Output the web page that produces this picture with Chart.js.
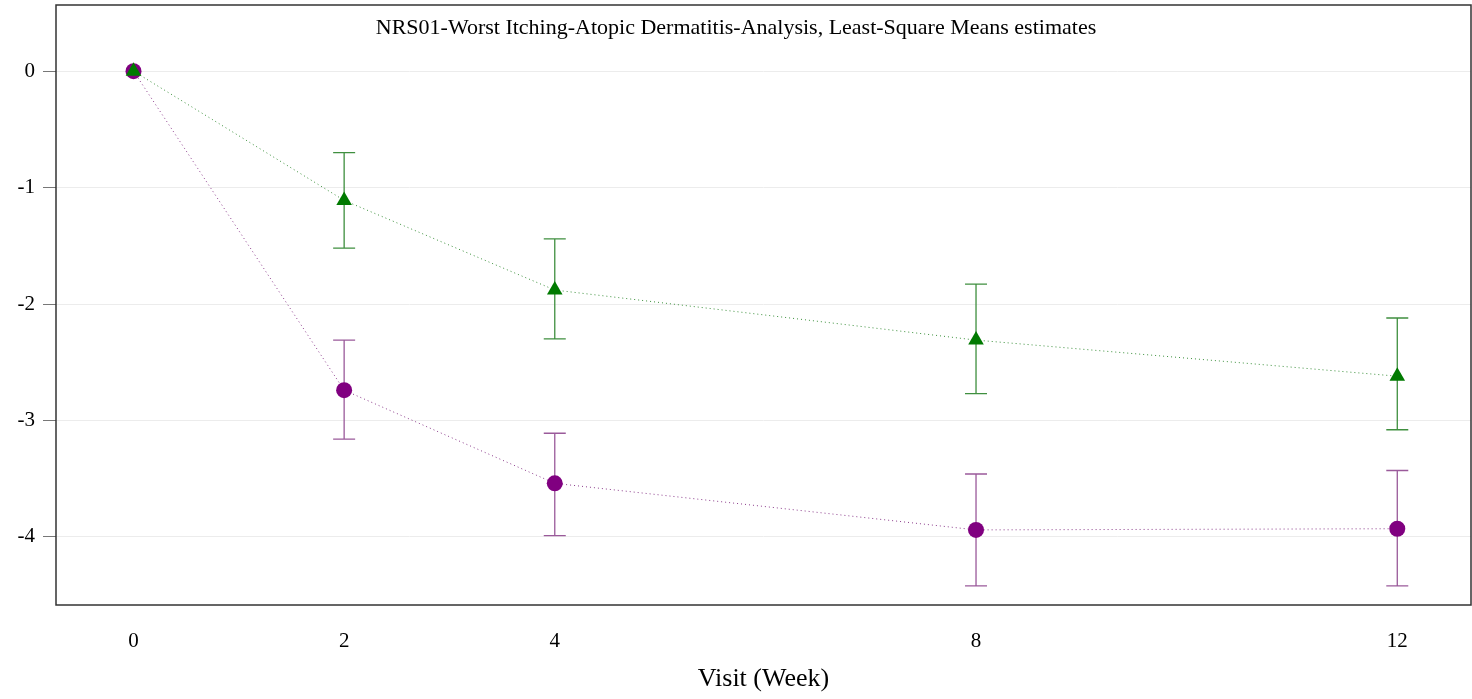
<!DOCTYPE html>
<html>
<head>
<meta charset="utf-8">
<title>NRS01 Worst Itching LS Means</title>
<script src="https://cdn.jsdelivr.net/npm/chart.js@4"></script>
<style>
  html, body { margin: 0; padding: 0; background: #fff; }
  #wrap { width: 1472px; height: 699px; }
</style>
</head>
<body>
<div id="wrap"><canvas id="chart"></canvas></div>
<script>
// data
const weeks = [0, 2, 4, 8, 12];
const xTicks = [0, 2, 4, 8, 12];
const yTicks = [0, -1, -2, -3, -4];

const greenMean  = [0, -1.11, -1.88, -2.31, -2.62];
const greenUpper = [null, -0.70, -1.44, -1.83, -2.12];
const greenLower = [null, -1.52, -2.30, -2.77, -3.08];

const purpleMean  = [0, -2.74, -3.54, -3.94, -3.93];
const purpleUpper = [null, -2.31, -3.11, -3.46, -3.43];
const purpleLower = [null, -3.16, -3.99, -4.42, -4.42];

const titleText = 'NRS01-Worst Itching-Atopic Dermatitis-Analysis, Least-Square Means estimates';
const serif = "'Liberation Serif', 'Times New Roman', serif";

function toPoints(ys) {
  return weeks.map((w, i) => ({ x: w, y: ys[i] }));
}

// error bars with caps, drawn under the markers
const errorBars = {
  id: 'errorBars',
  beforeDatasetsDraw(chart) {
    const ctx = chart.ctx;
    const xs = chart.scales.x, ys = chart.scales.y;
    const sets = [
      { up: greenUpper, lo: greenLower, color: '#3f8f3f' },
      { up: purpleUpper, lo: purpleLower, color: '#9a5a9a' }
    ];
    ctx.save();
    ctx.lineWidth = 1.3;
    sets.forEach(s => {
      ctx.strokeStyle = s.color;
      weeks.forEach((w, i) => {
        if (s.up[i] == null) return;
        const px = xs.getPixelForValue(w);
        const y1 = ys.getPixelForValue(s.up[i]);
        const y2 = ys.getPixelForValue(s.lo[i]);
        ctx.beginPath();
        ctx.moveTo(px, y1); ctx.lineTo(px, y2);
        ctx.moveTo(px - 11, y1); ctx.lineTo(px + 11, y1);
        ctx.moveTo(px - 11, y2); ctx.lineTo(px + 11, y2);
        ctx.stroke();
      });
    });
    ctx.restore();
  }
};

// frame and title inside the plot
const frame = {
  id: 'frame',
  afterDraw(chart) {
    const ctx = chart.ctx;
    const a = chart.chartArea;
    ctx.save();
    ctx.strokeStyle = '#333';
    ctx.lineWidth = 1.5;
    ctx.strokeRect(a.left, a.top, a.right - a.left, a.bottom - a.top);
    ctx.fillStyle = '#000';
    ctx.font = '22px ' + serif;
    ctx.textAlign = 'center';
    ctx.textBaseline = 'middle';
    ctx.fillText(titleText, chart.width / 2, 28);
    ctx.restore();
  }
};

var ctx = document.getElementById('chart').getContext('2d');
var chart = new Chart(ctx, {
  type: 'line',
  data: {
    datasets: [{
      label: 'Green',
      data: toPoints(greenMean),
      borderColor: '#3a8f3a',
      borderWidth: 1,
      borderDash: [1, 3],
      pointStyle: 'triangle',
      pointRadius: 9,
      pointBackgroundColor: '#007a00',
      pointBorderColor: '#007a00',
      pointBorderWidth: 0
    }, {
      label: 'Purple',
      data: toPoints(purpleMean),
      borderColor: '#8a3a8a',
      borderWidth: 1,
      borderDash: [1, 3],
      pointStyle: 'circle',
      pointRadius: 8,
      pointBackgroundColor: '#800080',
      pointBorderColor: '#800080',
      pointBorderWidth: 0
    }]
  },
  options: {
    responsive: true,
    maintainAspectRatio: false,
    animation: false,
    layout: { autoPadding: false, padding: { top: 5, right: 1, left: 0, bottom: 0 } },
    plugins: {
      legend: { display: false },
      tooltip: { enabled: false }
    },
    scales: {
      x: {
        type: 'linear',
        min: -0.736,
        max: 12.70,
        afterBuildTicks: s => { s.ticks = xTicks.map(v => ({ value: v })); },
        afterFit: s => { s.height = 94; s.paddingLeft = 0; s.paddingRight = 0; },
        grid: { display: false, drawTicks: false },
        border: { display: false },
        ticks: {
          padding: 24,
          color: '#000',
          font: { family: serif, size: 21 }
        },
        title: {
          display: true,
          text: 'Visit (Week)',
          color: '#000',
          font: { family: serif, size: 26 },
          padding: { top: 8 }
        }
      },
      y: {
        min: -4.585,
        max: 0.568,
        afterBuildTicks: s => { s.ticks = yTicks.map(v => ({ value: v })); },
        afterFit: s => { s.width = 56; s.paddingTop = 0; s.paddingBottom = 0; },
        grid: {
          color: '#ececec',
          tickColor: '#777',
          tickLength: 13,
          lineWidth: 1
        },
        border: { display: false },
        ticks: {
          padding: 8,
          color: '#000',
          font: { family: serif, size: 21 }
        }
      }
    }
  },
  plugins: [errorBars, frame]
});
</script>
</body>
</html>
